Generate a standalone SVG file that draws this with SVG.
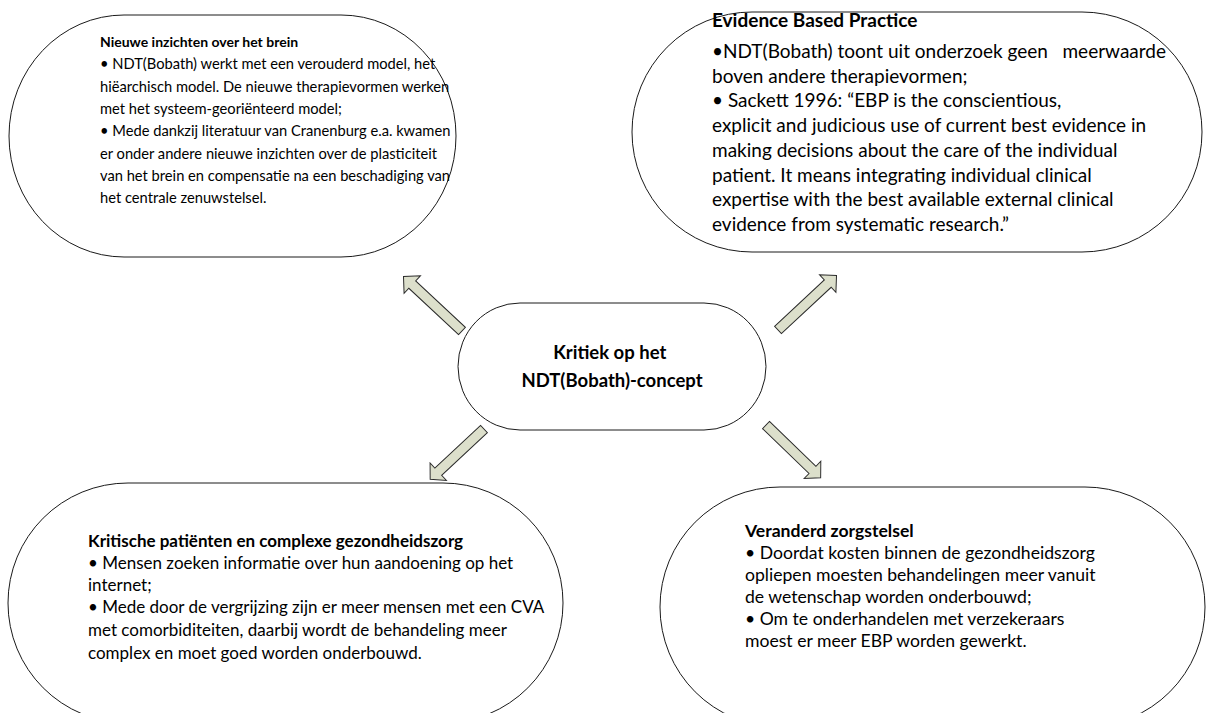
<svg xmlns="http://www.w3.org/2000/svg" width="1206" height="713" viewBox="0 0 1206 713">
<style>
.shape{fill:#fff;stroke:#1a1a1a;stroke-width:1}
.arrow{fill:#DCDFCB;stroke:#2a2a2a;stroke-width:1;stroke-linejoin:miter}
text{font-family:Lato,"Open Sans","Liberation Sans",sans-serif;fill:#000}
.b{font-weight:bold}
</style>
<defs>
<polygon id="arr" points="0,-5 68,-5 68,-12 80,0 68,12 68,5 0,5"/>
</defs>
<rect width="1206" height="713" fill="#fff"/>
<g id="connectors">
<use href="#arr" class="arrow" transform="translate(462,331) rotate(-137)"/>
<use href="#arr" class="arrow" transform="translate(778,330) rotate(-43)"/>
<use href="#arr" class="arrow" transform="translate(484,429) rotate(137) scale(0.92,1)"/>
<use href="#arr" class="arrow" transform="translate(766,425) rotate(44) scale(0.95,1)"/>
</g>
<g id="node-brein">
<rect class="shape" x="9" y="15" width="447" height="242" rx="115" ry="121"/>
<text font-size="14.7">
<tspan class="b" x="100" y="47" font-size="14">Nieuwe inzichten over het brein</tspan>
<tspan x="100" y="69">• NDT(Bobath) werkt met een verouderd model, het</tspan>
<tspan x="100" y="92">hiëarchisch model. De nieuwe therapievormen werken</tspan>
<tspan x="100" y="114">met het systeem-georiënteerd model;</tspan>
<tspan x="100" y="136">• Mede dankzij literatuur van Cranenburg e.a. kwamen</tspan>
<tspan x="100" y="159">er onder andere nieuwe inzichten over de plasticiteit</tspan>
<tspan x="100" y="181">van het brein en compensatie na een beschadiging van</tspan>
<tspan x="100" y="203">het centrale zenuwstelsel.</tspan>
</text>
</g>
<g id="node-ebp">
<rect class="shape" x="632" y="12" width="570" height="240" rx="120" ry="120"/>
<text font-size="19">
<tspan class="b" x="712" y="27">Evidence Based Practice</tspan>
<tspan x="712" y="58" xml:space="preserve">•NDT(Bobath) toont uit onderzoek geen   meerwaarde</tspan>
<tspan x="712" y="82.7">boven andere therapievormen;</tspan>
<tspan x="712" y="107.4">• Sackett 1996: “EBP is the conscientious,</tspan>
<tspan x="712" y="132">explicit and judicious use of current best evidence in</tspan>
<tspan x="712" y="156.8">making decisions about the care of the individual</tspan>
<tspan x="712" y="181.5">patient. It means integrating individual clinical</tspan>
<tspan x="712" y="206">expertise with the best available external clinical</tspan>
<tspan x="712" y="231">evidence from systematic research.”</tspan>
</text>
</g>
<g id="node-center">
<rect class="shape" x="458" y="303" width="308" height="127" rx="62" ry="63.5"/>
<text class="b" font-size="18.5" text-anchor="middle">
<tspan x="612" y="359">Kritiek op het</tspan>
<tspan x="612" y="387">NDT(Bobath)-concept</tspan>
</text>
</g>
<g id="node-patienten">
<rect class="shape" x="8" y="483" width="555" height="240" rx="120" ry="120"/>
<text font-size="17">
<tspan class="b" x="88" y="546.5">Kritische patiënten en complexe gezondheidszorg</tspan>
<tspan x="88" y="568.5">• Mensen zoeken informatie over hun aandoening op het</tspan>
<tspan x="88" y="590.5">internet;</tspan>
<tspan x="88" y="612.5">• Mede door de vergrijzing zijn er meer mensen met een CVA</tspan>
<tspan x="88" y="635.5">met comorbiditeiten, daarbij wordt de behandeling meer</tspan>
<tspan x="88" y="658.5">complex en moet goed worden onderbouwd.</tspan>
</text>
</g>
<g id="node-zorgstelsel">
<rect class="shape" x="660" y="487" width="545" height="240" rx="120" ry="120"/>
<text font-size="17.6">
<tspan class="b" x="745" y="537">Veranderd zorgstelsel</tspan>
<tspan x="745" y="559">• Doordat kosten binnen de gezondheidszorg</tspan>
<tspan x="745" y="581">opliepen moesten behandelingen meer vanuit</tspan>
<tspan x="745" y="603">de wetenschap worden onderbouwd;</tspan>
<tspan x="745" y="625">• Om te onderhandelen met verzekeraars</tspan>
<tspan x="745" y="647">moest er meer EBP worden gewerkt.</tspan>
</text>
</g>
</svg>
